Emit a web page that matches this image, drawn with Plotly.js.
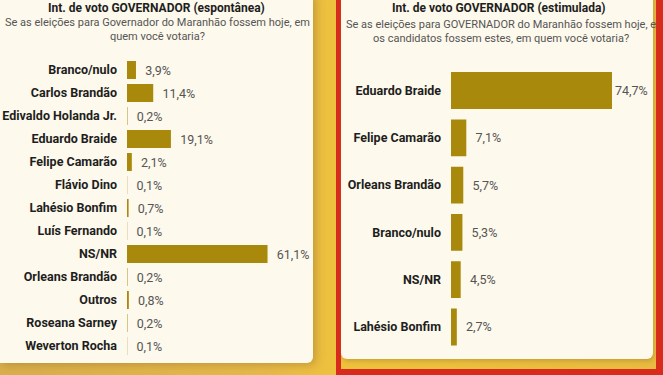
<!DOCTYPE html>
<html><head><meta charset="utf-8">
<script src="https://cdn.plot.ly/plotly-3.0.1.min.js"></script>
<style>
html,body{margin:0;padding:0;}
#wrap{position:relative;width:663px;height:375px;overflow:hidden;
 background:linear-gradient(90deg,#d9ae4c 0%,#e6b948 40%,#efc23c 52%,#e9bb40 100%);}
.card{position:absolute;background:#fdf9ec;}
#c1{left:0;top:-6px;width:313px;height:369px;border-radius:0 0 6px 0;box-shadow:3px 2px 8px rgba(150,110,40,0.45);}
#frame{position:absolute;left:336px;top:-6px;width:327px;height:381px;box-sizing:border-box;border:5px solid #d92b1c;border-right-width:7px;border-bottom-width:6px;}
#c2{left:341px;top:-6px;width:312px;height:365px;border-radius:0 0 6px 6px;box-shadow:1px 2px 5px rgba(150,110,40,0.4);}
#plot{position:absolute;left:0;top:0;width:663px;height:375px;}
</style></head>
<body>
<div id="wrap">
 <div class="card" id="c1"></div>
 <div id="frame"></div>
 <div class="card" id="c2"></div>
 <div id="plot"></div>
</div>
<script>
// Left panel: espontânea
const catsEsp = ["Branco/nulo","Carlos Brandão","Edivaldo Holanda Jr.","Eduardo Braide","Felipe Camarão","Flávio Dino","Lahésio Bonfim","Luís Fernando","NS/NR","Orleans Brandão","Outros","Roseana Sarney","Weverton Rocha"];
const valsEsp = [3.9,11.4,0.2,19.1,2.1,0.1,0.7,0.1,61.1,0.2,0.8,0.2,0.1];
// Right panel: estimulada
const catsEst = ["Eduardo Braide","Felipe Camarão","Orleans Brandão","Branco/nulo","NS/NR","Lahésio Bonfim"];
const valsEst = [74.7,7.1,5.7,5.3,4.5,2.7];

const titleEsp = "Int. de voto GOVERNADOR (espontânea)";
const subEsp = "Se as eleições para Governador do Maranhão fossem hoje, em<br>quem você votaria?";
const titleEst = "Int. de voto GOVERNADOR (estimulada)";
const subEst = "Se as eleições para GOVERNADOR do Maranhão fossem hoje, e<br>os candidatos fossem estes, em quem você votaria?";

const W = 663, H = 375;
const FONT = "Roboto, 'Open Sans', sans-serif";
const barColor = "#a8890b";
const px = v => v / W;
const py = v => 1 - v / H;
const padTpl = '\u00a0\u00a0%{x:.1f}%';

const barCommon = {
  type: 'bar', orientation: 'h',
  marker: {color: barColor},
  textposition: 'outside',
  cliponaxis: false,
  constraintext: 'none',
  textfont: {family: FONT, size: 12.5, color: '#555555'},
  hoverinfo: 'skip'
};

// the longest right-hand label sits closer to its bar, as in the source
const tplEst = valsEst.map((v, i) => i === 0 ? '%{x:.1f}%' : padTpl);

const traces = [
  Object.assign({}, barCommon, {x: valsEsp, y: catsEsp, xaxis: 'x', yaxis: 'y', texttemplate: padTpl}),
  Object.assign({}, barCommon, {x: valsEst, y: catsEst, xaxis: 'x2', yaxis: 'y2', texttemplate: tplEst})
];

const ax = {showgrid: false, zeroline: false, showline: false, showticklabels: false, fixedrange: true};
const yax = {showgrid: false, zeroline: false, showline: false, ticks: '', autorange: 'reversed',
  ticklabelstandoff: 9, tickfont: {family: FONT, size: 12.5, color: '#1e1e1e', weight: 'bold'}, fixedrange: true};

const layout = {
  width: W, height: H,
  margin: {l: 0, r: 0, t: 0, b: 0},
  paper_bgcolor: 'rgba(0,0,0,0)', plot_bgcolor: 'rgba(0,0,0,0)',
  separators: ',.',
  showlegend: false,
  bargap: 0.22,
  xaxis: Object.assign({}, ax, {domain: [px(127), px(127 + 2.30 * 80)], range: [0, 80]}),
  yaxis: Object.assign({}, yax, {domain: [py(357.5), py(58.5)], anchor: 'x'}),
  xaxis2: Object.assign({}, ax, {domain: [px(451), px(451 + 2.155 * 90)], range: [0, 90]}),
  yaxis2: Object.assign({}, yax, {domain: [py(350.6), py(66.9)], anchor: 'x2'}),
  annotations: [
    {text: titleEsp, x: px(156), y: py(8), xref: 'paper', yref: 'paper', showarrow: false,
     xanchor: 'center', yanchor: 'middle', font: {family: FONT, size: 12, color: '#1e1e1e', weight: 'bold'}},
    {text: subEsp, x: px(157), y: py(30), xref: 'paper', yref: 'paper', showarrow: false,
     xanchor: 'center', yanchor: 'middle', align: 'center', font: {family: FONT, size: 11, color: '#555555'}},
    {text: titleEst, x: px(499), y: py(8), xref: 'paper', yref: 'paper', showarrow: false,
     xanchor: 'center', yanchor: 'middle', font: {family: FONT, size: 12, color: '#1e1e1e', weight: 'bold'}},
    {text: subEst, x: px(501), y: py(31), xref: 'paper', yref: 'paper', showarrow: false,
     xanchor: 'center', yanchor: 'middle', align: 'center', font: {family: FONT, size: 11, color: '#555555'}}
  ]
};

Plotly.newPlot('plot', traces, layout, {displayModeBar: false, staticPlot: true});
</script>
</body></html>
